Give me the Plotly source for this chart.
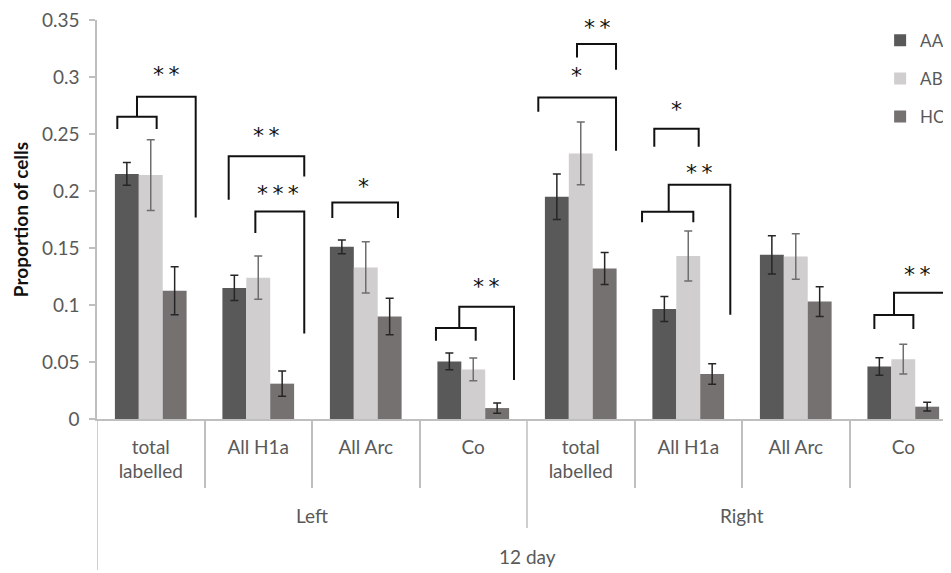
import plotly.graph_objects as go

# ---------------- data ----------------
categories = ["total<br>labelled", "All H1a", "All Arc", "Co",
              "total<br>labelled", "All H1a", "All Arc", "Co"]
sides = ["Left", "Right"]
group_label = "12 day"

series_names = ["AA", "AB", "HC"]
aa_values = [0.215, 0.115, 0.151, 0.0505, 0.195, 0.0965, 0.144, 0.046]
ab_values = [0.214, 0.124, 0.133, 0.0435, 0.233, 0.143, 0.1425, 0.0525]
hc_values = [0.1125, 0.031, 0.090, 0.0096, 0.132, 0.0395, 0.103, 0.0108]
aa_errors = [0.010, 0.011, 0.006, 0.0073, 0.020, 0.011, 0.0167, 0.0077]
ab_errors = [0.031, 0.019, 0.0225, 0.010, 0.0275, 0.022, 0.020, 0.013]
hc_errors = [0.021, 0.011, 0.016, 0.0045, 0.014, 0.009, 0.013, 0.0038]

y_tick_values = [0, 0.05, 0.1, 0.15, 0.2, 0.25, 0.3, 0.35]
y_tick_labels = ["0", "0.05", "0.1", "0.15", "0.2", "0.25", "0.3", "0.35"]

# significance brackets: list of polylines (x in category units, y in data units)
bracket_paths = [
    [(-0.311, 0.2544), (-0.311, 0.2652), (0.055, 0.2652), (0.055, 0.2544)],
    [(-0.128, 0.2652), (-0.128, 0.2827), (0.418, 0.2827), (0.418, 0.1768)],
    [(0.725, 0.1924), (0.725, 0.2304), (1.428, 0.2304), (1.428, 0.2128)],
    [(0.973, 0.1632), (0.973, 0.1821), (1.428, 0.1821), (1.428, 0.0751)],
    [(1.689, 0.1763), (1.689, 0.190), (2.300, 0.190), (2.300, 0.1763)],
    [(2.653, 0.0687), (2.653, 0.0798), (3.023, 0.0798), (3.023, 0.0687)],
    [(2.870, 0.0798), (2.870, 0.0985), (3.379, 0.0985), (3.379, 0.0342)],
    [(3.605, 0.2696), (3.605, 0.2821), (4.328, 0.2821), (4.328, 0.2354)],
    [(3.965, 0.3172), (3.965, 0.329), (4.328, 0.329), (4.328, 0.3064)],
    [(4.684, 0.2389), (4.684, 0.2546), (5.097, 0.2546), (5.097, 0.2389)],
    [(4.570, 0.1725), (4.570, 0.1818), (5.047, 0.1818), (5.047, 0.1725)],
    [(4.818, 0.1818), (4.818, 0.2055), (5.391, 0.2055), (5.391, 0.0915)],
    [(6.731, 0.079), (6.731, 0.0912), (7.094, 0.0912), (7.094, 0.079)],
    [(6.914, 0.0912), (6.914, 0.1108), (7.388, 0.1108), (7.388, 0.0347)],
]
star_labels = ["**", "**", "***", "*", "**", "*", "**", "*", "**", "**"]
star_x = [0.142, 1.069, 1.187, 1.977, 3.116, 3.962, 4.148, 4.893, 5.103, 7.125]
star_y = [0.3026, 0.2485, 0.1979, 0.204, 0.116, 0.3017, 0.343, 0.2719, 0.2163, 0.1266]

# ---------------- styling ----------------
FONT = "Lato, 'Open Sans', sans-serif"
TXT = "#595959"
AXIS = "#bfbfbf"
colors = ["#595959", "#d0cece", "#767171"]
err_colors = ["#262626", "#6e6e6e", "#262626"]

x_pos = list(range(len(categories)))
values = [aa_values, ab_values, hc_values]
errors = [aa_errors, ab_errors, hc_errors]

fig = go.Figure()
for i, name in enumerate(series_names):
    fig.add_trace(go.Bar(
        x=x_pos, y=values[i], name=name,
        marker=dict(color=colors[i], line=dict(width=0)),
        error_y=dict(type="data", array=errors[i], color=err_colors[i],
                     thickness=1.5, width=4),
        legendgroup=name,
    ))

shapes = []
for path in bracket_paths:
    d = "M " + " L ".join(f"{px},{py}" for px, py in path)
    shapes.append(dict(type="path", path=d, xref="x", yref="y",
                       line=dict(color="#111111", width=2)))

# plot-area geometry (for paper coordinates below the axis)
H_PLOT = 399.0
def below(px):
    return -px / H_PLOT

# divider between Left and Right, and extension of the y-axis line
shapes.append(dict(type="line", xref="x", yref="paper", x0=3.5, x1=3.5,
                   y0=0, y1=below(109), line=dict(color=AXIS, width=1.5)))
shapes.append(dict(type="line", xref="x", yref="paper", x0=-0.5, x1=-0.5,
                   y0=0, y1=below(151), line=dict(color=AXIS, width=1.5)))

annotations = []
for lbl, sx, sy in zip(star_labels, star_x, star_y):
    annotations.append(dict(x=sx, y=sy, xref="x", yref="y",
                            text="&#8201;".join(lbl),
                            showarrow=False, yshift=0,
                            font=dict(family="DejaVu Sans", size=22, color="#111111")))
for j, s in enumerate(sides):
    annotations.append(dict(x=1.5 + 4 * j, y=below(96), xref="x", yref="paper",
                            text=s, showarrow=False, yanchor="middle",
                            font=dict(family=FONT, size=19, color=TXT)))
annotations.append(dict(x=3.5, y=below(137), xref="x", yref="paper",
                        text=group_label, showarrow=False, yanchor="middle",
                        font=dict(family=FONT, size=19, color=TXT)))

fig.update_layout(
    width=943, height=565,
    margin=dict(l=89, r=0, t=12, b=154, autoexpand=False),
    paper_bgcolor="white", plot_bgcolor="white",
    barmode="group", bargap=0.333, bargroupgap=0,
    font=dict(family=FONT, size=19, color=TXT),
    showlegend=True,
    legend=dict(x=0.917, y=0.993, xanchor="left", yanchor="top",
                font=dict(family=FONT, size=17, color=TXT),
                tracegroupgap=13, bgcolor="rgba(0,0,0,0)"),
    shapes=shapes,
    annotations=annotations,
    xaxis=dict(
        range=[-0.5, 7.444],
        tickmode="array", tickvals=x_pos, ticktext=categories,
        ticks="", showline=True, linecolor=AXIS, linewidth=1.5,
        showgrid=False, zeroline=False,
        ticklabelstandoff=10, ticklabeloverflow="allow",
        tickfont=dict(family=FONT, size=19, color=TXT),
        minor=dict(tickmode="array", tickvals=[0.5, 1.5, 2.5, 4.5, 5.5, 6.5],
                   ticks="outside", ticklen=67, tickcolor=AXIS, tickwidth=1.5,
                   showgrid=False),
    ),
    yaxis=dict(
        range=[0, 0.35], tickmode="array",
        tickvals=y_tick_values, ticktext=y_tick_labels,
        ticks="outside", ticklen=6, tickcolor=AXIS, tickwidth=1.5,
        showline=True, linecolor=AXIS, linewidth=1.5,
        showgrid=False, zeroline=False,
        ticklabelstandoff=6, ticklabeloverflow="allow",
        tickfont=dict(family=FONT, size=19, color=TXT),
        title=dict(text="<b>Proportion of cells</b>", standoff=8,
                   font=dict(family=FONT, size=19, color="#111111")),
    ),
)

fig.write_html("out.html")
